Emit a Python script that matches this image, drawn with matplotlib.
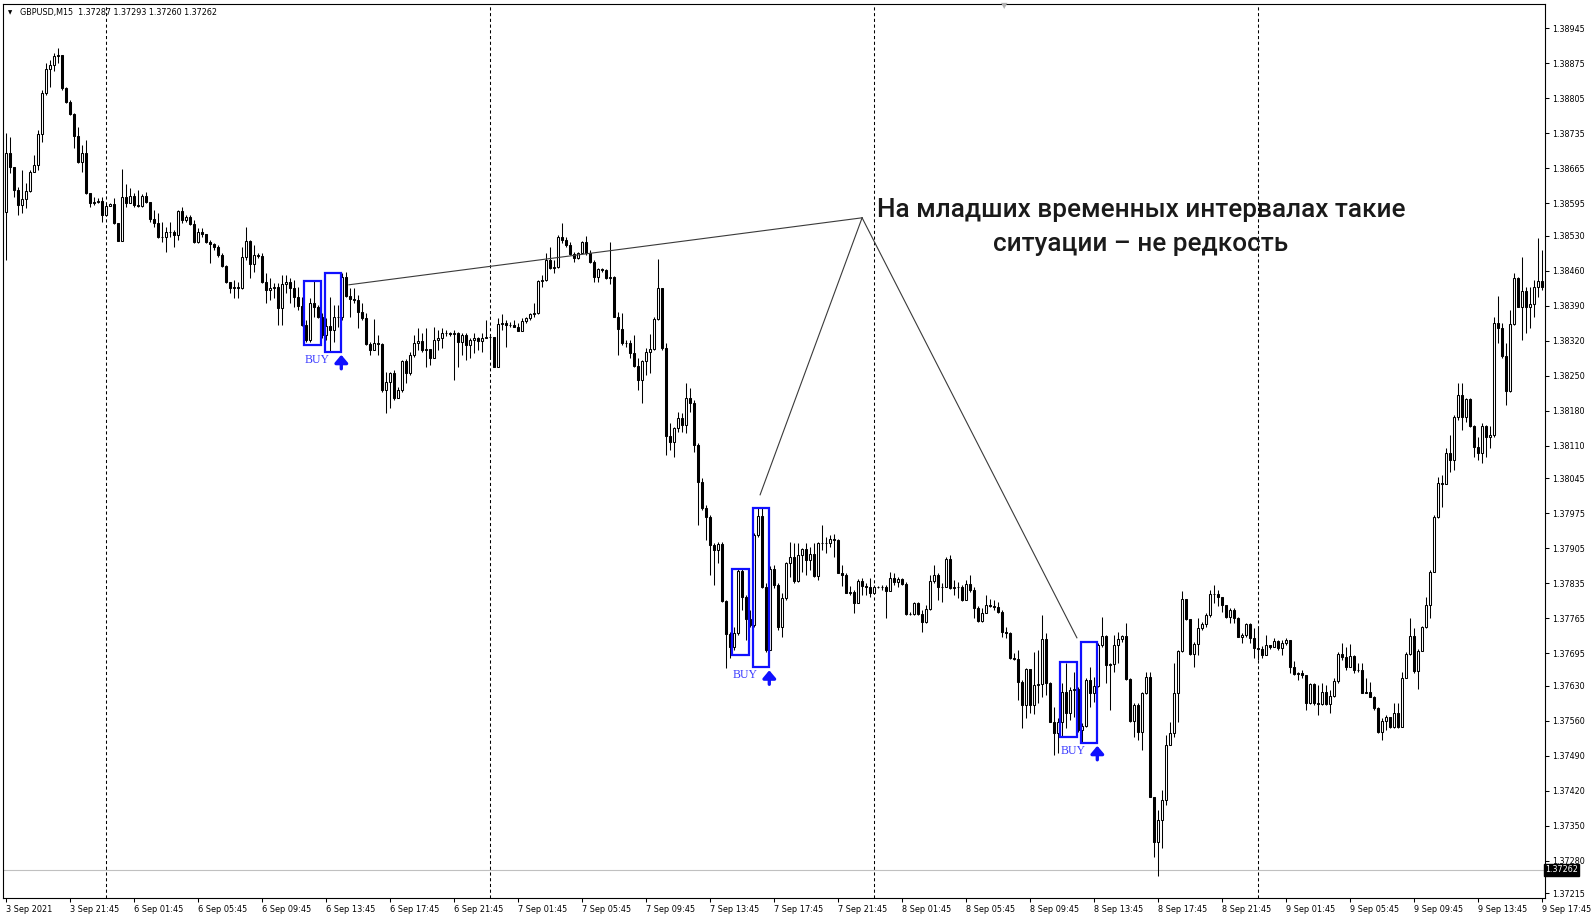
import matplotlib
matplotlib.use("Agg")
import matplotlib.pyplot as plt
import numpy as np
from matplotlib.transforms import offset_copy

# GBPUSD M15 bars, 3 Sep 17:45 .. 9 Sep 17:45
# prices are kept in points above 1.37000
BASE = 1.37
first_open = 1578

closes = [
    1695, 1668, 1622, 1592, 1603, 1620, 1658, 1671, 1734, 1815,
    1863, 1872, 1890, 1892, 1825, 1798, 1774, 1730, 1678, 1696,
    1615, 1595, 1598, 1600, 1572, 1590, 1593, 1555, 1520, 1608,
    1595, 1610, 1592, 1590, 1610, 1598, 1564, 1556, 1528, 1527,
    1538, 1537, 1532, 1580, 1562, 1568, 1554, 1518, 1538, 1534,
    1518, 1513, 1508, 1492, 1470, 1437, 1425, 1428, 1425, 1487,
    1519, 1473, 1492, 1490, 1438, 1422, 1425, 1428, 1385, 1433,
    1437, 1425, 1408, 1390, 1352, 1322, 1395, 1388, 1368, 1332,
    1350, 1342, 1368, 1367, 1447, 1410, 1404, 1402, 1378, 1365,
    1314, 1302, 1315, 1314, 1222, 1238, 1255, 1205, 1222, 1280,
    1255, 1292, 1315, 1320, 1302, 1303, 1285, 1322, 1325, 1335,
    1336, 1333, 1335, 1317, 1332, 1312, 1322, 1325, 1320, 1325,
    1328, 1328, 1268, 1353, 1355, 1352, 1352, 1348, 1340, 1360,
    1365, 1373, 1376, 1440, 1442, 1482, 1465, 1467, 1528, 1522,
    1512, 1494, 1485, 1496, 1518, 1495, 1478, 1448, 1463, 1462,
    1445, 1448, 1368, 1343, 1315, 1316, 1296, 1270, 1242, 1280,
    1298, 1303, 1363, 1425, 1305, 1130, 1118, 1145, 1165, 1152,
    1205, 1195, 1112, 1038, 985, 968, 912, 902, 913, 800,
    734, 707, 735, 860, 808, 763, 752, 932, 970, 828,
    702, 863, 832, 748, 805, 875, 888, 840, 892, 903,
    882, 894, 850, 915, 915, 915, 923, 922, 856, 852,
    816, 818, 795, 840, 830, 828, 815, 828, 827, 827,
    820, 845, 838, 843, 834, 774, 774, 795, 774, 758,
    783, 840, 852, 828, 827, 883, 825, 827, 827, 802,
    834, 822, 785, 760, 776, 792, 790, 788, 778, 738,
    736, 685, 683, 638, 592, 663, 592, 632, 634, 723,
    636, 558, 536, 558, 618, 576, 622, 623, 542, 550,
    642, 616, 630, 712, 730, 672, 674, 712, 723, 730,
    643, 560, 592, 538, 616, 647, 408, 318, 362, 402,
    512, 535, 616, 700, 803, 763, 694, 714, 746, 754,
    772, 814, 813, 807, 792, 768, 782, 765, 728, 732,
    754, 725, 705, 703, 692, 712, 707, 720, 705, 715,
    722, 667, 654, 655, 652, 595, 634, 595, 593, 618,
    593, 610, 640, 694, 687, 668, 690, 662, 662, 616,
    618, 608, 585, 538, 560, 567, 548, 575, 548, 645,
    694, 730, 660, 700, 747, 792, 858, 968, 1035, 1034,
    1095, 1082, 1167, 1212, 1167, 1203, 1150, 1108, 1096, 1150,
    1128, 1132, 1355, 1345, 1290, 1220, 1353, 1445, 1388, 1420,
    1388, 1394, 1428, 1440, 1428,
]

highs = [
    1735, 1728, 1668, 1628, 1662, 1635, 1662, 1692, 1742, 1822,
    1875, 1882, 1896, 1905, 1888, 1828, 1802, 1775, 1748, 1712,
    1722, 1616, 1608, 1605, 1608, 1595, 1595, 1605, 1552, 1663,
    1634, 1625, 1615, 1622, 1614, 1618, 1598, 1582, 1575, 1558,
    1548, 1558, 1542, 1582, 1588, 1572, 1572, 1562, 1545, 1545,
    1532, 1522, 1515, 1512, 1495, 1472, 1438, 1442, 1438, 1508,
    1548, 1522, 1512, 1495, 1495, 1455, 1445, 1435, 1435, 1452,
    1452, 1445, 1442, 1428, 1408, 1362, 1405, 1442, 1392, 1375,
    1365, 1408, 1392, 1392, 1455, 1458, 1425, 1425, 1412, 1395,
    1375, 1318, 1363, 1332, 1316, 1258, 1258, 1262, 1228, 1282,
    1283, 1298, 1332, 1345, 1336, 1345, 1302, 1347, 1342, 1345,
    1342, 1338, 1342, 1338, 1336, 1335, 1325, 1335, 1328, 1335,
    1362, 1332, 1315, 1365, 1374, 1362, 1358, 1362, 1355, 1365,
    1368, 1375, 1395, 1442, 1452, 1495, 1508, 1482, 1532, 1556,
    1528, 1518, 1498, 1498, 1520, 1530, 1502, 1482, 1465, 1465,
    1463, 1518, 1450, 1378, 1375, 1322, 1322, 1332, 1285, 1282,
    1305, 1334, 1368, 1483, 1426, 1315, 1155, 1148, 1178, 1175,
    1235, 1225, 1202, 1115, 1045, 992, 972, 915, 918, 918,
    802, 738, 748, 863, 863, 812, 782, 935, 985, 985,
    835, 870, 872, 835, 815, 878, 918, 915, 915, 905,
    915, 908, 915, 918, 952, 928, 932, 934, 923, 872,
    855, 830, 822, 843, 845, 835, 845, 832, 830, 832,
    832, 858, 855, 848, 845, 838, 778, 798, 798, 782,
    792, 852, 872, 855, 835, 888, 892, 842, 838, 832,
    842, 852, 828, 790, 785, 812, 803, 802, 798, 782,
    747, 738, 695, 702, 642, 665, 663, 698, 702, 772,
    735, 638, 588, 565, 635, 675, 628, 658, 628, 555,
    645, 668, 648, 715, 768, 732, 675, 732, 738, 732,
    755, 645, 595, 595, 618, 658, 658, 405, 382, 422,
    532, 558, 675, 702, 820, 803, 763, 718, 765, 758,
    775, 822, 832, 822, 808, 792, 785, 785, 767, 735,
    756, 755, 745, 748, 710, 732, 712, 725, 722, 722,
    725, 716, 680, 658, 662, 652, 635, 635, 632, 635,
    632, 622, 645, 698, 716, 708, 714, 692, 675, 675,
    645, 638, 610, 587, 565, 572, 567, 595, 595, 658,
    698, 765, 745, 703, 750, 808, 862, 972, 1048, 1052,
    1105, 1132, 1172, 1235, 1235, 1205, 1205, 1152, 1128, 1156,
    1152, 1150, 1367, 1410, 1356, 1315, 1382, 1455, 1448, 1488,
    1428, 1428, 1442, 1526, 1502,
]

lows = [
    1482, 1655, 1608, 1572, 1575, 1585, 1618, 1658, 1662, 1718,
    1812, 1828, 1860, 1875, 1822, 1795, 1772, 1705, 1676, 1658,
    1614, 1588, 1592, 1595, 1558, 1585, 1590, 1554, 1519, 1536,
    1588, 1595, 1588, 1588, 1588, 1595, 1558, 1548, 1525, 1518,
    1498, 1528, 1508, 1522, 1555, 1558, 1552, 1515, 1516, 1528,
    1515, 1475, 1502, 1488, 1468, 1435, 1415, 1405, 1405, 1423,
    1482, 1445, 1458, 1485, 1436, 1395, 1402, 1405, 1352, 1352,
    1415, 1395, 1388, 1382, 1350, 1318, 1318, 1368, 1365, 1325,
    1322, 1298, 1318, 1348, 1362, 1408, 1368, 1395, 1345, 1362,
    1312, 1292, 1302, 1292, 1218, 1175, 1185, 1202, 1208, 1218,
    1235, 1252, 1288, 1302, 1298, 1268, 1272, 1285, 1302, 1305,
    1330, 1330, 1242, 1268, 1292, 1282, 1285, 1295, 1302, 1298,
    1325, 1288, 1268, 1268, 1342, 1307, 1348, 1347, 1340, 1347,
    1355, 1362, 1368, 1374, 1428, 1440, 1463, 1455, 1465, 1515,
    1508, 1492, 1477, 1483, 1495, 1492, 1475, 1438, 1438, 1458,
    1443, 1434, 1367, 1292, 1312, 1308, 1285, 1268, 1222, 1196,
    1252, 1255, 1302, 1362, 1302, 1092, 1102, 1088, 1138, 1138,
    1135, 1178, 1098, 952, 982, 922, 852, 832, 875, 798,
    665, 685, 702, 732, 782, 722, 748, 748, 928, 825,
    698, 702, 825, 742, 728, 802, 848, 836, 838, 858,
    852, 862, 848, 842, 902, 895, 908, 888, 855, 830,
    815, 812, 775, 795, 812, 812, 808, 825, 825, 822,
    765, 827, 832, 827, 832, 772, 772, 772, 772, 738,
    755, 782, 835, 802, 798, 827, 823, 812, 805, 800,
    802, 818, 765, 758, 758, 775, 787, 782, 775, 728,
    725, 683, 682, 602, 545, 565, 575, 574, 595, 608,
    612, 558, 492, 495, 528, 545, 562, 568, 538, 515,
    548, 588, 598, 628, 708, 635, 582, 658, 675, 718,
    642, 558, 528, 522, 502, 614, 408, 288, 250, 306,
    392, 512, 528, 558, 698, 762, 692, 667, 692, 742,
    748, 768, 795, 790, 778, 765, 755, 755, 727, 715,
    728, 715, 685, 682, 685, 702, 703, 708, 702, 692,
    712, 655, 652, 642, 645, 582, 594, 592, 572, 592,
    592, 575, 608, 635, 682, 662, 667, 655, 658, 615,
    615, 607, 582, 535, 522, 542, 545, 545, 545, 547,
    645, 692, 655, 623, 718, 745, 765, 862, 965, 987,
    1034, 1058, 1062, 1162, 1142, 1158, 1148, 1088, 1082, 1075,
    1088, 1105, 1128, 1316, 1285, 1192, 1218, 1352, 1388, 1322,
    1336, 1346, 1368, 1408, 1422,
]

time_labels = [
    "3 Sep 2021", "3 Sep 21:45", "6 Sep 01:45", "6 Sep 05:45", "6 Sep 09:45",
    "6 Sep 13:45", "6 Sep 17:45", "6 Sep 21:45", "7 Sep 01:45", "7 Sep 05:45",
    "7 Sep 09:45", "7 Sep 13:45", "7 Sep 17:45", "7 Sep 21:45", "8 Sep 01:45",
    "8 Sep 05:45", "8 Sep 09:45", "8 Sep 13:45", "8 Sep 17:45", "8 Sep 21:45",
    "9 Sep 01:45", "9 Sep 05:45", "9 Sep 09:45", "9 Sep 13:45", "9 Sep 17:45",
]
day_start_bars = [25, 121, 217, 313]

price_ticks = [
    "1.38945", "1.38875", "1.38805", "1.38735", "1.38665", "1.38595", "1.38530",
    "1.38460", "1.38390", "1.38320", "1.38250", "1.38180", "1.38110", "1.38045",
    "1.37975", "1.37905", "1.37835", "1.37765", "1.37695", "1.37630", "1.37560",
    "1.37490", "1.37420", "1.37350", "1.37280", "1.37215",
]
last_price = 1.37262

# BUY signals: first bar of the pattern, box A and box B price ranges (points)
signal_bars = [75, 182, 264]
box_a = [(1312, 1440), (692, 863), (528, 677)]
box_b = [(1298, 1456), (667, 986), (516, 718)]

# callout lines (bar, points)
apex = (214.1, 1566)
callout_ends = [(85.8, 1432), (188.6, 1012), (267.8, 726)]
note = ["На младших временных интервалах такие", "ситуации – не редкость"]

c = BASE + np.array(closes) / 1e5
h = BASE + np.array(highs) / 1e5
l = BASE + np.array(lows) / 1e5
o = np.concatenate([[BASE + first_open / 1e5], c[:-1]])  # open = previous close
x = np.arange(len(c))

W, H = 1593, 921
fig = plt.figure(figsize=(W / 100, H / 100), dpi=100)
ax = fig.add_axes([3 / W, 23 / H, 1542 / W, 894 / H])
ax.set_xlim(-0.675, 384.825)
ax.set_ylim(1.372056, 1.389936)

# day separators + current price line
for b in day_start_bars:
    ax.axvline(b, color="black", lw=0.75, ls=(0, (3, 2.5)), zorder=1)
ax.axhline(last_price, color="#c0c0c0", lw=0.8, zorder=1)

# candles
top = np.maximum(np.maximum(o, c), h)
bot = np.minimum(np.minimum(o, c), l)
ax.vlines(x, bot, top, color="black", lw=0.75, zorder=2)
up = c >= o
ax.bar(x[up], (c - o)[up], bottom=o[up], width=0.5, facecolor="white",
       edgecolor="black", lw=0.75, zorder=3)
ax.bar(x[~up], (c - o)[~up], bottom=o[~up], width=0.5, facecolor="black",
       edgecolor="black", lw=0.75, zorder=3)

# BUY boxes
blue = "#1010ff"
for s, (a0, a1), (b0, b1) in zip(signal_bars, box_a, box_b):
    for x0, x1, y0, y1 in [(s - 0.35, s + 3.9, a0, a1), (s + 4.75, s + 8.9, b0, b1)]:
        ax.add_patch(plt.Rectangle((x0, BASE + y0 / 1e5), x1 - x0, (y1 - y0) / 1e5,
                                   fill=False, edgecolor=blue, lw=1.6, zorder=4))
    yb = BASE + b0 / 1e5
    ax.text(s - 0.35, yb, "BUY", transform=offset_copy(ax.transData, fig=fig, y=-2, units="dots"),
            ha="left", va="top", color="#3a3aff", fontsize=8.5, family="Liberation Serif", zorder=5)
    xr = s + 8.9
    ax.annotate("", xy=(xr, yb), xycoords=offset_copy(ax.transData, fig=fig, y=-3, units="dots"),
                xytext=(xr, yb), textcoords=offset_copy(ax.transData, fig=fig, y=-17, units="dots"),
                arrowprops=dict(arrowstyle="-|>,head_width=0.38,head_length=0.45", color=blue,
                                lw=2.4, shrinkA=0, shrinkB=0), zorder=5)

# callout lines and note
for bx, py in callout_ends:
    ax.plot([bx, apex[0]], [BASE + py / 1e5, BASE + apex[1] / 1e5], color="#3a3a3a", lw=0.8, zorder=4)
ax.text(283.8, BASE + 1581 / 1e5, note[0], ha="center", va="center", fontsize=18.8,
        family="Roboto", weight="medium", color="#1a1a1a", zorder=6)
ax.text(283.8, BASE + 1513 / 1e5, note[1], ha="center", va="center", fontsize=18.8,
        family="Roboto", weight="medium", color="#1a1a1a", zorder=6)

# axes
for sp in ax.spines.values():
    sp.set_linewidth(0.8)
    sp.set_color("black")
ax.yaxis.tick_right()
ax.set_yticks([float(t) for t in price_ticks])
ax.set_yticklabels(price_ticks)
ax.tick_params(axis="y", length=3, width=0.75, pad=2, labelsize=5.8)
ax.set_xticks(np.arange(0, 385, 16))
ax.set_xticklabels(time_labels)
ax.tick_params(axis="x", length=3, width=0.75, pad=2, labelsize=5.9)
for lbl in ax.get_xticklabels():
    lbl.set_ha("left")

ax.text(1.0, last_price, "1.37262", transform=ax.get_yaxis_transform(), ha="left", va="center",
        fontsize=5.8, color="white", zorder=7,
        bbox=dict(boxstyle="square,pad=0.15", facecolor="black", edgecolor="black"))

fig.text(10 / W, 1 - 13 / H, "▼", fontsize=4, ha="center", va="center")
fig.text(20 / W, 1 - 13 / H, "GBPUSD,M15  1.37287 1.37293 1.37260 1.37262",
         fontsize=5.8, ha="left", va="center")
fig.text(1004 / W, 1 - 6 / H, "▼", fontsize=6, color="#b0b0b0", ha="center", va="center")

fig.savefig("out.png", dpi=100)
